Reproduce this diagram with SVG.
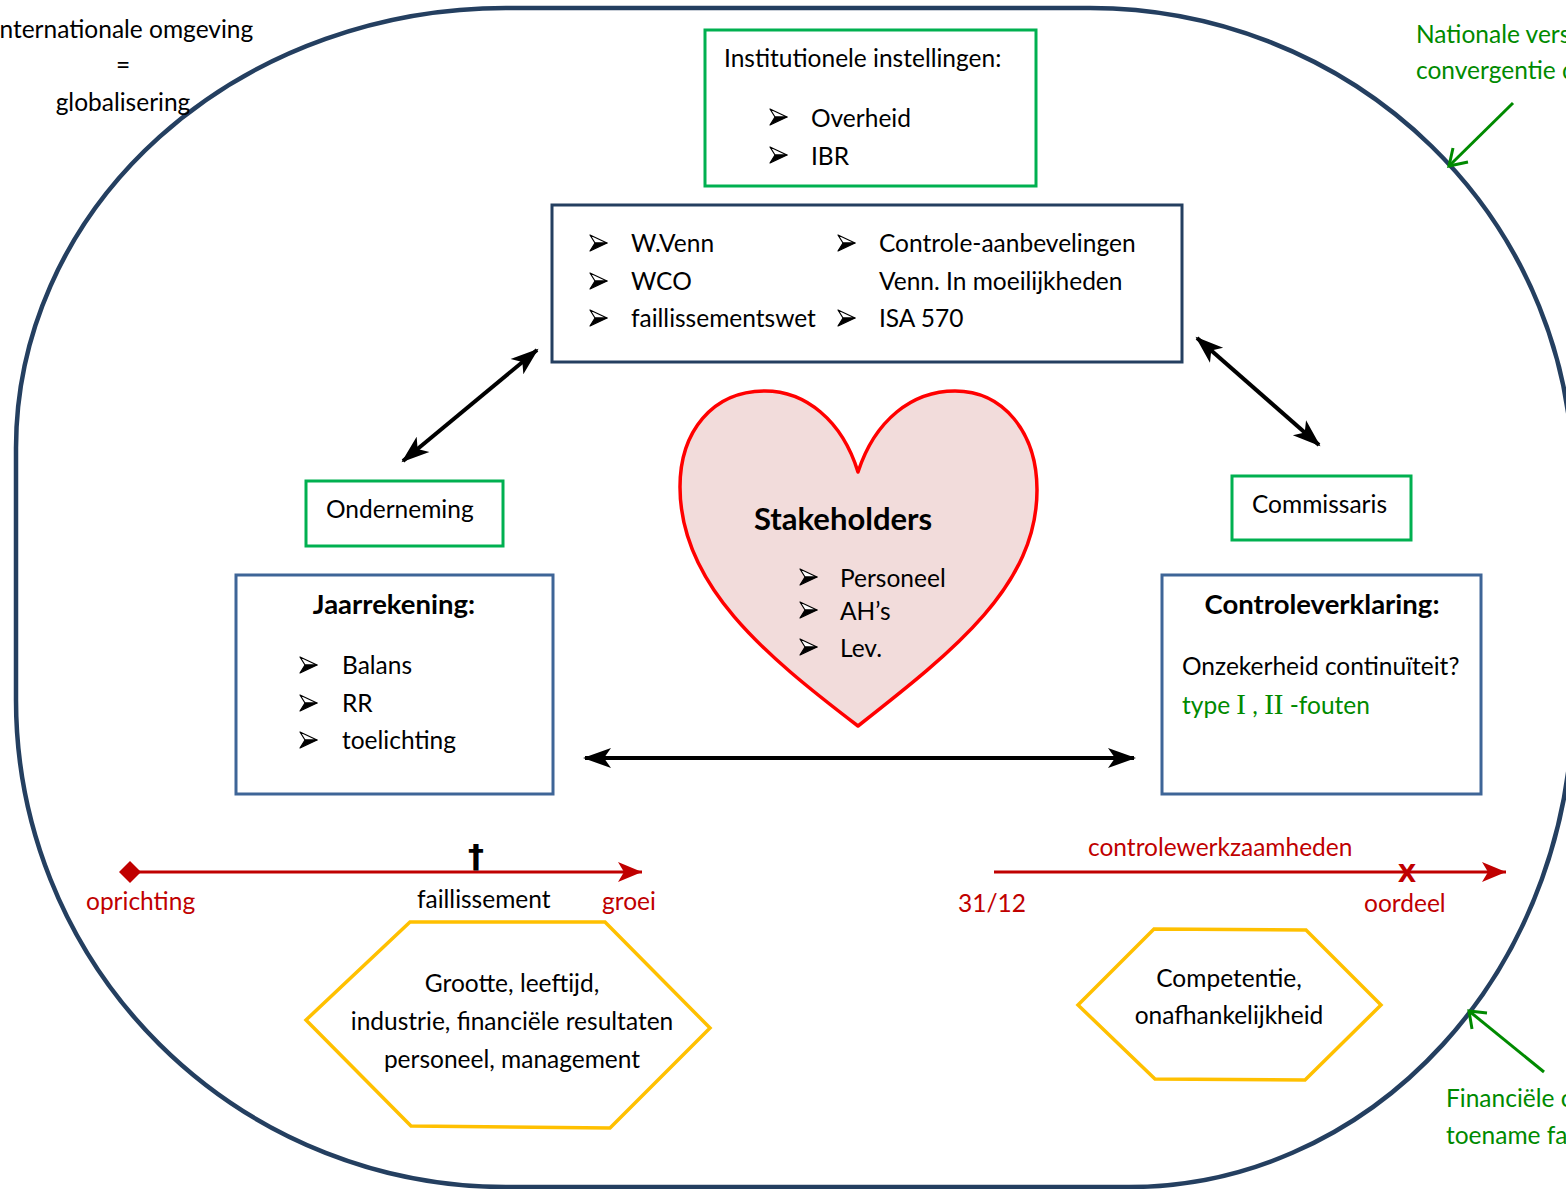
<svg xmlns="http://www.w3.org/2000/svg" xmlns:xlink="http://www.w3.org/1999/xlink" width="1566" height="1189" viewBox="0 0 1566 1189">
<style>
text{font-family:Lato,"Open Sans","DejaVu Sans",sans-serif;font-size:24.5px;fill:#000}
.b{font-weight:bold;font-size:27.5px}
.red{fill:#c00000}
.grn{fill:#008a00}
.gbox{fill:#fff;stroke:#00b050;stroke-width:3}
.nbox{fill:#fff;stroke:#243f60;stroke-width:3}
.lbox{fill:#fff;stroke:#3e6597;stroke-width:3}
.hex{fill:#fff;stroke:#ffc000;stroke-width:3.5}
.conn{stroke:#000;stroke-width:4;fill:none}
.rline{stroke:#c00000;stroke-width:3;fill:none}
.gline{stroke:#008a00;stroke-width:3;fill:none}
.serif{font-family:"Liberation Serif","DejaVu Serif",serif;font-size:29px}
</style>
<defs>
<marker id="ah" markerUnits="userSpaceOnUse" markerWidth="30" markerHeight="24" viewBox="0 0 30 24" refX="26" refY="12" orient="auto-start-reverse">
<path d="M0,2 L28,12 L0,22 L7,12 Z" fill="#000"/>
</marker>
<marker id="rh" markerUnits="userSpaceOnUse" markerWidth="28" markerHeight="22" viewBox="0 0 28 22" refX="26" refY="11" orient="auto">
<path d="M2,1 L26,11 L2,21 L8,11 Z" fill="#c00000"/>
</marker>
<g id="bul">
<path d="M0,-8 L17,0 L5,0 Z" fill="#fff" stroke="#000" stroke-width="1.2" stroke-linejoin="round"/>
<path d="M0,8 L17,0 L5,0 Z" fill="#000" stroke="#000" stroke-width="1.2" stroke-linejoin="round"/>
</g>
</defs>
<rect width="1566" height="1189" fill="#fff"/>

<g id="outer">
<path d="M16,448 A490,440 0 0 1 506,8 L1090,8 A483,472 0 0 1 1573,480 L1573,700 A444,487 0 0 1 1129,1187 L506,1187 A490,487 0 0 1 16,700 Z" fill="none" stroke="#243f60" stroke-width="4.5"/>
</g>

<g id="label-international">
<text x="123" y="38" text-anchor="middle">Internationale omgeving</text>
<text x="123" y="74" text-anchor="middle">=</text>
<text x="123" y="111" text-anchor="middle">globalisering</text>
</g>

<g id="label-nationaal">
<text class="grn" x="1416" y="43">Nationale vers</text>
<text class="grn" x="1416" y="79">convergentie d</text>
</g>

<g id="label-financieel">
<text class="grn" x="1446" y="1107">Financiële c</text>
<text class="grn" x="1446" y="1144">toename fa</text>
</g>

<g id="institutioneel">
<rect class="gbox" x="705" y="30" width="331" height="156"/>
<text x="724" y="67">Institutionele instellingen:</text>
<use xlink:href="#bul" x="770" y="117"/>
<text x="811" y="127">Overheid</text>
<use xlink:href="#bul" x="770" y="155"/>
<text x="811" y="165">IBR</text>
</g>

<g id="wetgeving">
<rect class="nbox" x="552" y="205" width="630" height="157"/>
<use xlink:href="#bul" x="590" y="243"/>
<text x="631" y="252">W.Venn</text>
<use xlink:href="#bul" x="590" y="281"/>
<text x="631" y="290">WCO</text>
<use xlink:href="#bul" x="590" y="318"/>
<text x="631" y="327">faillissementswet</text>
<use xlink:href="#bul" x="838" y="243"/>
<text x="879" y="252">Controle-aanbevelingen</text>
<text x="879" y="290">Venn. In moeilijkheden</text>
<use xlink:href="#bul" x="838" y="318"/>
<text x="879" y="327">ISA 570</text>
</g>

<g id="onderneming">
<rect class="gbox" x="306" y="481" width="197" height="65"/>
<text x="326" y="518">Onderneming</text>
</g>

<g id="commissaris">
<rect class="gbox" x="1232" y="476" width="179" height="64"/>
<text x="1252" y="513">Commissaris</text>
</g>

<g id="jaarrekening">
<rect class="lbox" x="236" y="575" width="317" height="219"/>
<text class="b" x="394" y="614" text-anchor="middle">Jaarrekening:</text>
<use xlink:href="#bul" x="300" y="665"/>
<text x="342" y="674">Balans</text>
<use xlink:href="#bul" x="300" y="703"/>
<text x="342" y="712">RR</text>
<use xlink:href="#bul" x="300" y="740"/>
<text x="342" y="749">toelichting</text>
</g>

<g id="controleverklaring">
<rect class="lbox" x="1162" y="575" width="319" height="219"/>
<text class="b" x="1322" y="614" text-anchor="middle">Controleverklaring:</text>
<text x="1182" y="675">Onzekerheid continuïteit?</text>
<text class="grn" x="1182" y="714">type <tspan class="serif grn">I</tspan> , <tspan class="serif grn">II</tspan> -fouten</text>
</g>

<g id="stakeholders">
<path d="M858,472 C842,420 805,391 765,391 C712,391 680,432 680,487 C680,585 765,655 858,726 C955,650 1037,585 1037,490 C1037,432 1003,391 955,391 C912,391 875,420 858,472 Z" fill="#f2dcdb" stroke="#ff0000" stroke-width="3.5" stroke-linejoin="round"/>
<text class="b" x="754" y="530" style="font-size:31px">Stakeholders</text>
<use xlink:href="#bul" x="800" y="577"/>
<text x="840" y="587">Personeel</text>
<use xlink:href="#bul" x="800" y="610"/>
<text x="840" y="620">AH’s</text>
<use xlink:href="#bul" x="800" y="647"/>
<text x="840" y="657">Lev.</text>
</g>

<g id="timeline-onderneming">
<line class="rline" x1="130" y1="872" x2="642" y2="872" marker-end="url(#rh)"/>
<path d="M119,872 L130,861 L141,872 L130,883 Z" fill="#c00000"/>
<text x="476" y="867" text-anchor="middle" style="font-family:'DejaVu Sans',sans-serif;font-weight:bold;font-size:32px">†</text>
<text class="red" x="86" y="910">oprichting</text>
<text x="417" y="908">faillissement</text>
<text class="red" x="602" y="910">groei</text>
</g>

<g id="timeline-controle">
<line class="rline" x1="994" y1="872" x2="1506" y2="872" marker-end="url(#rh)"/>
<text class="red" x="1407" y="882" text-anchor="middle" style="font-family:'DejaVu Sans',sans-serif;font-weight:bold;font-size:24px">X</text>
<text class="red" x="1088" y="856">controlewerkzaamheden</text>
<text class="red" x="958" y="912">31/12</text>
<text class="red" x="1364" y="912">oordeel</text>
</g>

<g id="factoren-onderneming">
<polygon class="hex" points="410,922 605,922 710,1028 610,1128 411,1126 306,1020"/>
<text x="512" y="992" text-anchor="middle">Grootte, leeftijd,</text>
<text x="512" y="1030" text-anchor="middle">industrie, financiële resultaten</text>
<text x="512" y="1068" text-anchor="middle">personeel, management</text>
</g>

<g id="factoren-commissaris">
<polygon class="hex" points="1154,929 1306,930 1381,1005 1305,1080 1155,1079 1078,1005"/>
<text x="1229" y="987" text-anchor="middle">Competentie,</text>
<text x="1229" y="1024" text-anchor="middle">onafhankelijkheid</text>
</g>

<g id="connectors">
<line class="conn" x1="403" y1="461" x2="537" y2="350" marker-start="url(#ah)" marker-end="url(#ah)"/>
<line class="conn" x1="1197" y1="338" x2="1319" y2="445" marker-start="url(#ah)" marker-end="url(#ah)"/>
<line class="conn" x1="585" y1="758" x2="1134" y2="758" marker-start="url(#ah)" marker-end="url(#ah)"/>
<line class="gline" x1="1513" y1="103" x2="1449" y2="166"/>
<polyline class="gline" points="1453,148 1449,166 1468,162"/>
<line class="gline" x1="1544" y1="1072" x2="1469" y2="1011"/>
<polyline class="gline" points="1472,1029 1469,1011 1487,1013"/>
</g>
</svg>
